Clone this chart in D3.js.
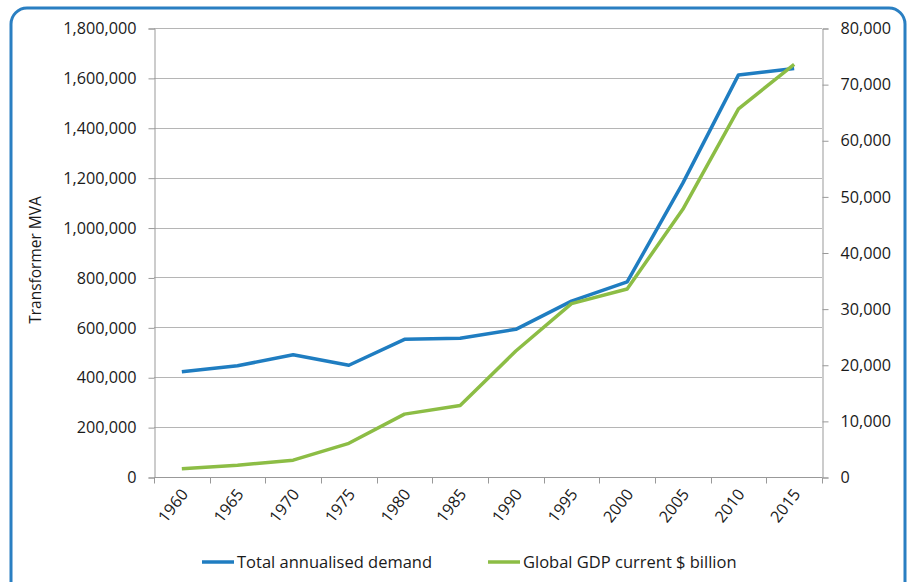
<!DOCTYPE html>
<html>
<head>
<meta charset="utf-8">
<script src="https://cdn.jsdelivr.net/npm/d3@7"></script>
<style>
  body { margin: 0; background: #fff; }
  text { font-family: "Open Sans", "DejaVu Sans", sans-serif; fill: #1a1a1a; }
</style>
</head>
<body>
<div id="chart"></div>
<script>
var years = ['1960', '1965', '1970', '1975', '1980', '1985', '1990', '1995', '2000', '2005', '2010', '2015'];
var demand = [422000, 446000, 490000, 448000, 552000, 556000, 592000, 705000, 782000, 1178000, 1612000, 1638000];
var gdp = [1450, 2100, 3000, 6000, 11200, 12750, 22450, 30900, 33500, 47700, 65600, 73500];
var left_ticks = [0, 200000, 400000, 600000, 800000, 1000000, 1200000, 1400000, 1600000, 1800000];
var right_ticks = [0, 10000, 20000, 30000, 40000, 50000, 60000, 70000, 80000];
var series_names = ['Total annualised demand', 'Global GDP current $ billion'];

var width = 909;
var height = 582;
var plot_left = 154, plot_right = 822, plot_top = 28, plot_bottom = 477;
var blue = '#1f7dc1';
var green = '#8cbd45';

var svg = d3.select('#chart')
  .append('svg')
  .attr('width', width)
  .attr('height', height);

// outer border
svg.append('rect')
  .attr('x', 11).attr('y', 8)
  .attr('width', 894).attr('height', 590)
  .attr('rx', 16)
  .attr('fill', 'none')
  .attr('stroke', '#2a7fc2')
  .attr('stroke-width', 3);

// scales
var x_scale = d3.scaleBand()
  .domain(years)
  .range([plot_left, plot_right]);
var y_left = d3.scaleLinear()
  .domain([0, 1800000])
  .range([plot_bottom, plot_top]);
var y_right = d3.scaleLinear()
  .domain([0, 80000])
  .range([plot_bottom, plot_top]);

var fmt = d3.format(',');

// gridlines
svg.selectAll('line.grid')
  .data(left_ticks)
  .enter()
  .append('line')
  .attr('class', 'grid')
  .attr('x1', plot_left).attr('x2', plot_right)
  .attr('y1', function (d) { return Math.round(y_left(d)) + 0.5; })
  .attr('y2', function (d) { return Math.round(y_left(d)) + 0.5; })
  .attr('stroke', '#b5b5b5')
  .attr('stroke-width', 1);

// left axis
var left_axis = svg.append('g')
  .attr('transform', 'translate(' + (plot_left + 0.5) + ',0.5)')
  .call(d3.axisLeft(y_left).tickValues(left_ticks).tickFormat(fmt).tickSize(6).tickPadding(12));
left_axis.selectAll('text').style('font-size', '16.2px');

// right axis
var right_axis = svg.append('g')
  .attr('transform', 'translate(' + (plot_right + 0.5) + ',0.5)')
  .call(d3.axisRight(y_right).tickValues(right_ticks).tickFormat(fmt).tickSize(6).tickPadding(12));
right_axis.selectAll('text').style('font-size', '16.2px');

// bottom axis
var x_axis = svg.append('g')
  .attr('transform', 'translate(0,' + (plot_bottom + 0.5) + ')')
  .call(d3.axisBottom(x_scale).tickSize(0).tickPadding(0));
x_axis.selectAll('text')
  .style('font-size', '16.2px')
  .attr('text-anchor', 'end')
  .attr('dy', 0)
  .attr('transform', function () {
    return 'translate(7,17) rotate(-52)';
  });
x_axis.selectAll('line.bt')
  .data(d3.range(years.length + 1))
  .enter()
  .append('line')
  .attr('class', 'bt')
  .attr('x1', function (i) { return Math.round(plot_left + i * x_scale.step()) + 0.5; })
  .attr('x2', function (i) { return Math.round(plot_left + i * x_scale.step()) + 0.5; })
  .attr('y1', 0).attr('y2', 6)
  .attr('stroke', '#999');

svg.selectAll('.domain').attr('stroke', '#999');
svg.selectAll('.tick line').attr('stroke', '#999');
x_axis.select('.domain').attr('d', 'M' + plot_left + ',0H' + plot_right);

// y axis title
svg.append('text')
  .attr('transform', 'translate(41,260) rotate(-90)')
  .attr('text-anchor', 'middle')
  .style('font-size', '15.5px')
  .text('Transformer MVA');

// lines
var cx = function (i) { return x_scale(years[i]) + x_scale.bandwidth() / 2; };
var line_left = d3.line()
  .x(function (d, i) { return cx(i); })
  .y(function (d) { return y_left(d); });
var line_right = d3.line()
  .x(function (d, i) { return cx(i); })
  .y(function (d) { return y_right(d); });

svg.append('path')
  .datum(demand)
  .attr('d', line_left)
  .attr('fill', 'none')
  .attr('stroke', blue)
  .attr('stroke-width', 3.5)
  .attr('stroke-linejoin', 'round');

svg.append('path')
  .datum(gdp)
  .attr('d', line_right)
  .attr('fill', 'none')
  .attr('stroke', green)
  .attr('stroke-width', 3.5)
  .attr('stroke-linejoin', 'round');

// legend
var legend = [
  { name: series_names[0], color: blue, x: 202 },
  { name: series_names[1], color: green, x: 488 }
];
var lg = svg.selectAll('g.legend')
  .data(legend)
  .enter()
  .append('g')
  .attr('class', 'legend')
  .attr('transform', function (d) { return 'translate(' + d.x + ',562)'; });
lg.append('line')
  .attr('x1', 0).attr('x2', 32)
  .attr('stroke', function (d) { return d.color; })
  .attr('stroke-width', 3.5);
lg.append('text')
  .attr('x', 35)
  .attr('y', 6)
  .style('font-size', '16.5px')
  .text(function (d) { return d.name; });
</script>
</body>
</html>
